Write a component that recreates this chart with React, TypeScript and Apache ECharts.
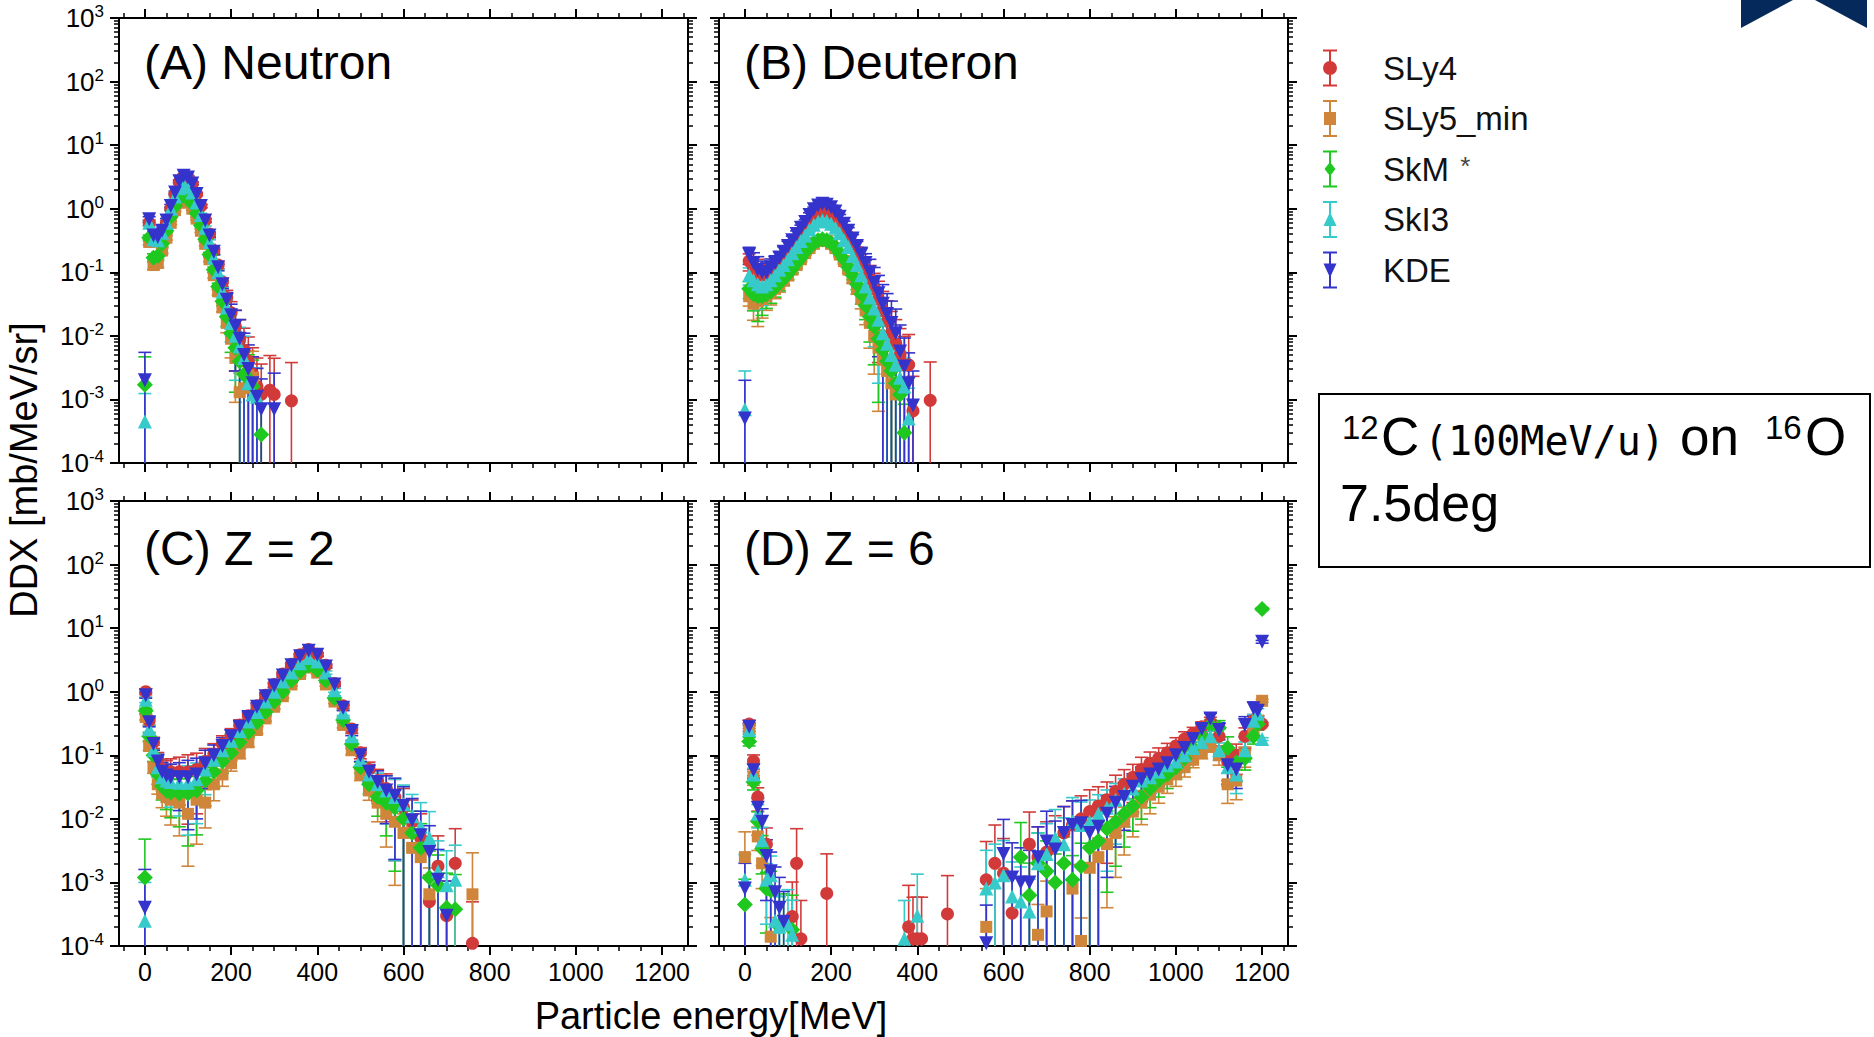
import React, { useEffect, useRef } from "react";
import * as echarts from "echarts";

const FONT = '"Liberation Sans", Arial, Helvetica, sans-serif';

const MODELS = ["SLy4", "SLy5_min", "SkM*", "SkI3", "KDE"];
const COLORS = ["#d23a3a", "#cf853a", "#1fc81f", "#37caca", "#3434cc"];
const SYMBOLS = ["circle", "rect", "diamond", "triangle", "triangle"];
const SYMBOL_SIZES = [13, 12, 16, 14, 14];
const SYMBOL_ROTATE = [0, 0, 0, 0, 180];
const BAR = "M0,0H14V2H0Z M6,2H8V35H6Z M0,35H14V37H0Z ";
const LEGEND_ICONS = [
  "path://" + BAR + "M0,18.5A7,7 0 1,1 14,18.5A7,7 0 1,1 0,18.5Z",
  "path://" + BAR + "M1,12H13V25H1Z",
  "path://" + BAR + "M7,11.5L12.5,18.5L7,25.5L1.5,18.5Z",
  "path://" + BAR + "M7,11L13.5,25H0.5Z",
  "path://" + BAR + "M0.5,12H13.5L7,26Z",
];

const PANEL_TITLES = ["(A) Neutron", "(B) Deuteron", "(C) Z = 2", "(D) Z = 6"];

const X_MAJOR = [0, 200, 400, 600, 800, 1000, 1200];
const X_MINOR = [-50, 50, 100, 150, 250, 300, 350, 450, 500, 550, 650, 700, 750, 850, 900, 950, 1050, 1100, 1150, 1250];
const Y_MAJOR = [1e-4, 1e-3, 1e-2, 1e-1, 1, 10, 100, 1000];
const Y_MINOR_STEPS = [2, 3, 4, 5, 6, 7, 8, 9];
const Y_MINOR = Y_MAJOR.slice(0, -1).flatMap((d) => Y_MINOR_STEPS.map((k) => k * d));
const Y_MIN = 1e-4;
const Y_MAX = 1000;
const X_MIN = -60;
const X_MAX = 1260;

// ---------- (A) Neutron ----------
const A_X = [0, 10, 20, 30, 40, 50, 60, 70, 80, 90, 100, 110, 120, 130, 140, 150, 160, 170, 180, 190, 200, 210, 220, 230, 240, 250, 260, 270, 280, 290, 300, 310, 320, 330, 340];
const A_SLY4 = [null, 0.6, 0.33, 0.32, 0.42, 0.6, 1.0, 1.7, 2.6, 3.2, 3.1, 2.5, 1.7, 1.1, 0.66, 0.4, 0.22, 0.13, 0.07, 0.04, 0.023, 0.014, 0.009, 0.006, 0.004, 0.0025, 0.0016, 0.0012, null, 0.0014, 0.0012, null, null, null, 0.00095];
const A_SLY5 = [null, 0.3, 0.13, 0.14, 0.22, 0.35, 0.6, 0.95, 1.25, 1.35, 1.25, 1.0, 0.7, 0.45, 0.28, 0.16, 0.09, 0.05, 0.028, 0.016, 0.009, 0.0045, 0.0013, 0.0015, 0.0024, 0.0022, null, null, null, null, null, null, null, null, null];
const A_SKM = [0.0017, 0.35, 0.17, 0.18, 0.28, 0.45, 0.75, 1.1, 1.45, 1.6, 1.5, 1.2, 0.85, 0.55, 0.33, 0.19, 0.11, 0.06, 0.035, 0.02, 0.011, 0.0065, 0.004, 0.0025, 0.0021, 0.0016, null, 0.00028, null, null, null, null, null, null, null];
const A_SKI3 = [0.00045, 0.6, 0.33, 0.32, 0.42, 0.6, 1.0, 1.55, 2.1, 2.4, 2.2, 1.8, 1.25, 0.8, 0.5, 0.3, 0.17, 0.1, 0.05, 0.028, 0.016, 0.01, 0.0068, 0.0045, 0.0018, 0.0012, 0.0011, null, null, null, null, null, null, null, null];
const A_KDE = [0.002, 0.68, 0.38, 0.36, 0.45, 0.65, 1.1, 1.8, 2.7, 3.3, 3.1, 2.5, 1.7, 1.1, 0.65, 0.38, 0.21, 0.12, 0.065, 0.037, 0.021, 0.014, 0.009, 0.005, 0.003, 0.0018, 0.0011, 0.0007, null, null, 0.0007, null, null, null, null];
const A_REL_ERR = [1.75, 0.1, 0.15, 0.15, 0.1, 0.08, 0.06, 0.05, 0.05, 0.05, 0.05, 0.05, 0.05, 0.06, 0.07, 0.08, 0.1, 0.12, 0.15, 0.3, 0.5, 0.8, 1.0, 1.2, 1.4, 1.6, 1.8, 2.0, 2.5, 2.5, 2.7, 3, 3, 3, 3];

// ---------- (B) Deuteron ----------
const B_X = [0, 10, 20, 30, 40, 50, 60, 70, 80, 90, 100, 110, 120, 130, 140, 150, 160, 170, 180, 190, 200, 210, 220, 230, 240, 250, 260, 270, 280, 290, 300, 310, 320, 330, 340, 350, 360, 370, 380, 390, 400, 410, 420, 430];
const B_SLY4 = [null, 0.15, 0.12, 0.1, 0.09, 0.09, 0.1, 0.12, 0.14, 0.17, 0.21, 0.26, 0.33, 0.41, 0.5, 0.64, 0.78, 0.88, 0.93, 0.9, 0.84, 0.72, 0.6, 0.47, 0.37, 0.28, 0.21, 0.15, 0.11, 0.08, 0.055, 0.038, 0.025, 0.017, 0.011, 0.0075, 0.005, 0.0035, 0.0035, 0.00066, null, null, null, 0.00097];
const B_SLY5 = [null, 0.042, 0.032, 0.035, 0.038, 0.042, 0.047, 0.055, 0.065, 0.076, 0.09, 0.11, 0.13, 0.16, 0.2, 0.24, 0.28, 0.31, 0.32, 0.31, 0.28, 0.24, 0.19, 0.15, 0.11, 0.08, 0.055, 0.038, 0.025, 0.016, 0.01, 0.0065, 0.0042, 0.0028, 0.0018, 0.0012, null, null, null, null, null, null, null, null];
const B_SKM = [null, 0.055, 0.045, 0.042, 0.042, 0.045, 0.05, 0.058, 0.068, 0.08, 0.095, 0.115, 0.14, 0.17, 0.21, 0.25, 0.29, 0.32, 0.33, 0.32, 0.29, 0.25, 0.2, 0.16, 0.12, 0.09, 0.065, 0.045, 0.03, 0.02, 0.014, 0.009, 0.006, 0.004, 0.0028, 0.0018, 0.0012, 0.0003, null, null, null, null, null, null];
const B_SKI3 = [0.0007, 0.09, 0.075, 0.065, 0.06, 0.065, 0.075, 0.09, 0.11, 0.13, 0.16, 0.2, 0.25, 0.31, 0.38, 0.47, 0.56, 0.63, 0.66, 0.64, 0.58, 0.5, 0.41, 0.32, 0.25, 0.18, 0.13, 0.09, 0.06, 0.04, 0.027, 0.018, 0.011, 0.0075, 0.005, 0.0035, 0.0022, 0.0016, 0.0005, null, null, null, null, null];
const B_KDE = [0.0005, 0.19, 0.14, 0.11, 0.1, 0.1, 0.12, 0.14, 0.17, 0.21, 0.26, 0.32, 0.4, 0.5, 0.62, 0.8, 0.98, 1.12, 1.2, 1.15, 1.05, 0.9, 0.75, 0.58, 0.45, 0.34, 0.26, 0.19, 0.14, 0.1, 0.068, 0.047, 0.032, 0.022, 0.016, 0.011, 0.0057, 0.0033, 0.0018, 0.0008, null, null, null, null];
const B_REL_ERR = [3, 0.3, 0.45, 0.6, 0.5, 0.4, 0.35, 0.3, 0.25, 0.2, 0.18, 0.15, 0.12, 0.1, 0.08, 0.08, 0.08, 0.08, 0.08, 0.08, 0.08, 0.08, 0.08, 0.1, 0.12, 0.15, 0.18, 0.3, 0.4, 0.6, 0.75, 0.9, 1.0, 1.1, 1.2, 1.4, 1.6, 1.8, 2.0, 2.5, 3, 3, 3, 3];

// ---------- (C) Z = 2 ----------
const C_X = [0, 2, 10, 20, 30, 40, 50, 60, 80, 100, 120, 140, 160, 180, 200, 220, 240, 260, 280, 300, 320, 340, 360, 380, 400, 420, 440, 460, 480, 500, 520, 540, 560, 580, 600, 620, 640, 660, 680, 700, 720, 740, 760];
const C_SLY4 = [null, 1.0, 0.35, 0.16, 0.085, 0.06, 0.055, 0.055, 0.055, 0.055, 0.06, 0.08, 0.105, 0.15, 0.21, 0.3, 0.42, 0.6, 0.88, 1.3, 1.9, 2.7, 3.8, 4.6, 3.9, 2.6, 1.35, 0.6, 0.26, 0.11, 0.06, 0.04, 0.03, 0.022, 0.015, 0.009, 0.005, 0.0005, 0.0018, 0.0003, 0.002, null, 0.00011];
const C_SLY5 = [null, 0.4, 0.14, 0.065, 0.035, 0.025, 0.022, 0.02, 0.018, 0.012, 0.02, 0.018, 0.035, 0.05, 0.075, 0.11, 0.16, 0.25, 0.38, 0.58, 0.85, 1.3, 1.9, 2.4, 2.0, 1.3, 0.7, 0.3, 0.12, 0.05, 0.028, 0.018, 0.012, 0.009, 0.006, 0.0035, 0.0025, 0.00065, null, null, null, null, 0.00065];
const C_SKM = [0.0012, 0.5, 0.2, 0.1, 0.05, 0.033, 0.028, 0.026, 0.025, 0.025, 0.028, 0.04, 0.055, 0.08, 0.11, 0.16, 0.23, 0.33, 0.48, 0.7, 1.0, 1.5, 2.1, 2.6, 2.2, 1.5, 0.8, 0.36, 0.15, 0.065, 0.035, 0.022, 0.018, 0.015, 0.01, 0.006, 0.0035, 0.0012, 0.0009, 0.0004, 0.00038, null, null];
const C_SKI3 = [0.00025, 0.75, 0.26, 0.12, 0.065, 0.045, 0.04, 0.038, 0.037, 0.037, 0.042, 0.06, 0.085, 0.12, 0.17, 0.24, 0.34, 0.48, 0.7, 1.0, 1.45, 2.0, 2.8, 3.4, 3.0, 2.0, 1.05, 0.47, 0.2, 0.085, 0.05, 0.035, 0.028, 0.022, 0.017, 0.011, 0.0075, 0.005, 0.0015, 0.0009, 0.0011, null, null];
const C_KDE = [0.0004, 0.88, 0.33, 0.15, 0.08, 0.055, 0.048, 0.045, 0.045, 0.045, 0.05, 0.075, 0.1, 0.14, 0.2, 0.28, 0.4, 0.58, 0.85, 1.25, 1.8, 2.6, 3.6, 4.4, 3.8, 2.5, 1.3, 0.56, 0.24, 0.1, 0.055, 0.038, 0.028, 0.023, 0.016, 0.0095, 0.0055, 0.003, 0.0011, 0.0003, null, null, null];
const C_REL_ERR = [3, 0.1, 0.15, 0.2, 0.3, 0.4, 0.5, 0.6, 0.7, 0.85, 0.8, 0.6, 0.45, 0.35, 0.25, 0.2, 0.15, 0.12, 0.1, 0.08, 0.07, 0.06, 0.06, 0.06, 0.06, 0.06, 0.07, 0.1, 0.15, 0.2, 0.3, 0.5, 0.7, 0.9, 1.0, 1.2, 1.4, 1.6, 2.0, 2.5, 2.5, 3, 3.5];

// ---------- (D) Z = 6 ----------
const D_X = [0, 10, 20, 30, 40, 50, 60, 70, 80, 90, 100, 110, 120, 130, 190, 370, 380, 390, 400, 410, 470,
  560, 580, 600, 620, 640, 660, 680, 700, 720, 740, 760, 780, 800, 820, 840, 860, 880, 900, 920, 940, 960, 980, 1000, 1020, 1040, 1060, 1080, 1100, 1120, 1140, 1160, 1180,
  1190, 1200];
const D_SLY4 = [null, 0.31, 0.081, 0.022, null, 0.004, null, null, null, null, null, 0.00029, 0.002, 0.00013, 0.00067, null, 0.0002, 0.00013, 0.00013, 0.00013, 0.00032,
  0.0011, 0.002, 0.0014, 0.00033, null, 0.004, 0.0025, 0.003, 0.004, 0.006, 0.008, 0.01, 0.013, 0.016, 0.02, 0.027, 0.035, 0.045, 0.06, 0.075, 0.09, 0.11, 0.14, 0.18, 0.22, 0.28, 0.33, 0.2, 0.08, 0.1, 0.2, 0.35,
  0.35, 0.31];
const D_SLY5 = [0.0025, 0.26, 0.045, 0.0053, 0.002, null, 0.00014, null, null, null, null, null, null, null, null, null, null, null, null, null, null,
  0.0002, null, null, null, null, null, 0.00015, 0.00035, null, null, 0.0008, 0.00012, 0.0017, 0.0025, 0.004, 0.006, 0.009, 0.013, 0.018, 0.024, 0.032, 0.042, 0.05, 0.065, 0.085, 0.11, 0.14, 0.1, 0.035, 0.04, 0.1, 0.25,
  0.35, 0.72];
const D_SKM = [0.00045, 0.165, 0.038, 0.0092, 0.0034, 0.0008, 0.00075, null, 0.0002, 0.00022, null, 0.00018, null, null, null, null, null, null, null, null, null,
  null, null, null, null, 0.0025, 0.00063, 0.002, 0.0015, 0.001, 0.002, 0.0011, 0.0018, 0.0035, 0.0045, 0.007, 0.009, 0.012, 0.016, 0.022, 0.03, 0.04, 0.05, 0.065, 0.09, 0.13, 0.2, 0.3, 0.27, 0.13, 0.077, 0.09, 0.2,
  0.31, 20];
const D_SKI3 = [0.0011, 0.25, 0.05, 0.012, 0.0046, 0.0011, 0.0013, 0.00025, 0.0002, null, 0.00022, 0.00015, null, null, null, 0.00013, null, null, 0.0003, null, null,
  0.0008, 0.001, 0.0013, 0.0006, 0.0005, 0.00035, 0.002, 0.0028, 0.005, 0.004, 0.009, 0.008, 0.009, 0.012, 0.015, 0.02, 0.025, 0.03, 0.04, 0.045, 0.055, 0.07, 0.08, 0.1, 0.13, 0.16, 0.2, 0.12, 0.065, 0.05, 0.12, 0.35,
  0.45, 0.18];
const D_KDE = [0.0008, 0.28, 0.058, 0.015, 0.009, 0.0026, 0.0015, 0.0007, 0.0004, 0.00024, null, null, null, null, null, null, null, null, null, null, null,
  0.00011, null, 0.0028, 0.0012, 0.001, 0.001, 0.0025, 0.0044, 0.0033, 0.006, 0.008, 0.0085, 0.006, 0.0075, 0.012, 0.018, 0.022, 0.032, 0.042, 0.05, 0.06, 0.075, 0.1, 0.13, 0.18, 0.26, 0.38, 0.25, 0.07, 0.06, 0.3, 0.55,
  0.5, 6.1];
const D_REL_ERR = [1.5, 0.15, 0.25, 0.4, 0.6, 0.8, 1.0, 1.5, 2, 2, 2.5, 2.5, 2.5, 3, 3.2, 3, 3.5, 3.5, 3.5, 3.5, 3,
  3, 3, 2.5, 2.5, 2.5, 2.2, 2, 2, 1.8, 1.6, 1.4, 1.3, 1.2, 1.0, 0.9, 0.8, 0.7, 0.6, 0.55, 0.5, 0.45, 0.4, 0.35, 0.3, 0.25, 0.2, 0.2, 0.3, 0.5, 0.5, 0.35, 0.25,
  0.2, 0.05];

const PANELS = [
  { x: A_X, values: [A_SLY4, A_SLY5, A_SKM, A_SKI3, A_KDE], rel: A_REL_ERR },
  { x: B_X, values: [B_SLY4, B_SLY5, B_SKM, B_SKI3, B_KDE], rel: B_REL_ERR },
  { x: C_X, values: [C_SLY4, C_SLY5, C_SKM, C_SKI3, C_KDE], rel: C_REL_ERR },
  { x: D_X, values: [D_SLY4, D_SLY5, D_SKM, D_SKI3, D_KDE], rel: D_REL_ERR },
];

const GRID_POS = [
  { left: 119, top: 18 },
  { left: 719, top: 18 },
  { left: 119, top: 501 },
  { left: 719, top: 501 },
];
const GRID_W = 569;
const GRID_H = 445;

function buildOption() {
  const grid: any[] = [];
  const xAxis: any[] = [];
  const yAxis: any[] = [];
  const series: any[] = [];
  const axisLineStyle = { color: "#000", width: 2 };

  GRID_POS.forEach((g, p) => {
    grid.push({ left: g.left, top: g.top, width: GRID_W, height: GRID_H, containLabel: false, outerBoundsMode: "none" });
    const showX = p >= 2;
    const showY = p % 2 === 0;
    (["bottom", "top"] as const).forEach((pos) => {
      xAxis.push({
        gridIndex: p, type: "value", position: pos, min: X_MIN, max: X_MAX,
        axisLine: { show: true, onZero: false, lineStyle: axisLineStyle },
        axisTick: { show: true, customValues: X_MAJOR, length: 9, lineStyle: { color: "#000", width: 2 } },
        axisLabel: {
          show: pos === "bottom" && showX, customValues: X_MAJOR, margin: 13, color: "#000", fontSize: 25, fontFamily: FONT,
          formatter: (v: number) => String(v),
        },
        splitLine: { show: false },
      });
      xAxis.push({
        gridIndex: p, type: "value", position: pos, min: X_MIN, max: X_MAX,
        axisLine: { show: false, onZero: false },
        axisTick: { show: true, customValues: X_MINOR, length: 5, lineStyle: { color: "#000", width: 1.5 } },
        axisLabel: { show: false },
        splitLine: { show: false },
      });
    });
    (["left", "right"] as const).forEach((pos) => {
      yAxis.push({
        gridIndex: p, type: "log", logBase: 10, position: pos, min: Y_MIN, max: Y_MAX, interval: 1,
        axisLine: { show: true, onZero: false, lineStyle: axisLineStyle },
        axisTick: { show: true, customValues: Y_MAJOR, length: 9, lineStyle: { color: "#000", width: 2 } },
        axisLabel: {
          show: pos === "left" && showY, customValues: Y_MAJOR, margin: 15,
          formatter: (v: number) => `{b|10}{s|${Math.round(Math.log10(v))}}`,
          rich: {
            b: { fontSize: 26, fontFamily: FONT, color: "#000", lineHeight: 30 },
            s: { fontSize: 17, fontFamily: FONT, color: "#000", lineHeight: 18, verticalAlign: "top" },
          },
        },
        splitLine: { show: false },
      });
      yAxis.push({
        gridIndex: p, type: "log", logBase: 10, position: pos, min: Y_MIN, max: Y_MAX, interval: 1,
        axisLine: { show: false, onZero: false },
        axisTick: { show: true, customValues: Y_MINOR, length: 5, lineStyle: { color: "#000", width: 1.5 } },
        axisLabel: { show: false },
        splitLine: { show: false },
      });
    });

    const panel = PANELS[p];
    MODELS.forEach((name, m) => {
      const vals = panel.values[m];
      const color = COLORS[m];
      const pts: any[] = [];
      const errs: any[] = [];
      panel.x.forEach((x, i) => {
        const v = vals[i];
        if (v == null) return;
        pts.push([x, v]);
        const rel = panel.rel[i] ?? 0.1;
        const loRaw = v * (1 - rel);
        const lo = loRaw > Y_MIN ? loRaw : Y_MIN;
        const hi = Math.min(v * (1 + rel), Y_MAX);
        errs.push([x, v, lo, hi, loRaw > Y_MIN ? 1 : 0]);
      });
      series.push({
        type: "custom", name, xAxisIndex: p * 4, yAxisIndex: p * 4, data: errs, z: 2, silent: true, clip: true,
        itemStyle: { color },
        encode: { x: 0, y: 1 },
        renderItem: (params: any, api: any) => {
          const x = api.value(0);
          const pHi = api.coord([x, api.value(3)]);
          const pLo = api.coord([x, api.value(2)]);
          const st = { stroke: color, lineWidth: 1.6 };
          const cw = 6.5;
          const children: any[] = [
            { type: "line", shape: { x1: pLo[0], y1: pLo[1], x2: pHi[0], y2: pHi[1] }, style: st },
            { type: "line", shape: { x1: pHi[0] - cw, y1: pHi[1], x2: pHi[0] + cw, y2: pHi[1] }, style: st },
          ];
          if (api.value(4) === 1) {
            children.push({ type: "line", shape: { x1: pLo[0] - cw, y1: pLo[1], x2: pLo[0] + cw, y2: pLo[1] }, style: st });
          }
          return { type: "group", children };
        },
      });
      series.push({
        type: "scatter", name, xAxisIndex: p * 4, yAxisIndex: p * 4, data: pts, z: 3, silent: true,
        symbol: SYMBOLS[m], symbolSize: SYMBOL_SIZES[m], symbolRotate: SYMBOL_ROTATE[m],
        itemStyle: { color, opacity: 1 },
      });
    });
  });

  const graphic: any[] = [];
  PANEL_TITLES.forEach((t, p) => {
    graphic.push({
      type: "text", x: GRID_POS[p].left + 25, y: GRID_POS[p].top + (p < 2 ? 44 : 47), silent: true,
      style: { text: t, fontSize: 48, fontFamily: FONT, fill: "#000", align: "left", verticalAlign: "middle", textAlign: "left", textVerticalAlign: "middle" },
    });
  });
  graphic.push({
    type: "text", x: 711, y: 1016, silent: true,
    style: { text: "Particle energy[MeV]", fontSize: 38, fontFamily: FONT, fill: "#000", align: "center", verticalAlign: "middle", textAlign: "center", textVerticalAlign: "middle" },
  });
  graphic.push({
    type: "text", x: 24, y: 470, rotation: Math.PI / 2, silent: true,
    style: { text: "DDX [mb/MeV/sr]", fontSize: 38, fontFamily: FONT, fill: "#000", align: "center", verticalAlign: "middle", textAlign: "center", textVerticalAlign: "middle" },
  });
  // reaction box
  graphic.push({
    type: "rect", shape: { x: 1319, y: 394, width: 551, height: 173 }, silent: true,
    style: { fill: "#fff", stroke: "#000", lineWidth: 2 },
  });
  const boxText = (text: string, x: number, y: number, size: number, family = FONT) => ({
    type: "text", x, y, silent: true, z: 10,
    style: { text, fontSize: size, fontFamily: family, fill: "#000", align: "left", verticalAlign: "middle", textAlign: "left", textVerticalAlign: "middle" },
  });
  graphic.push(boxText("12", 1342, 427, 33));
  graphic.push(boxText("C", 1381, 436, 53));
  graphic.push(boxText("(100MeV/u)", 1424, 441, 40, '"DejaVu Sans Mono", monospace'));
  graphic.push(boxText("on", 1680, 436, 53));
  graphic.push(boxText("16", 1765, 427, 33));
  graphic.push(boxText("O", 1805, 436, 53));
  graphic.push(boxText("7.5deg", 1340, 503, 52));
  // corner logo
  graphic.push({ type: "polygon", silent: true, shape: { points: [[1741, 0], [1793, 0], [1741, 28]] }, style: { fill: "#06295b" } });
  graphic.push({ type: "polygon", silent: true, shape: { points: [[1815, 0], [1867, 0], [1867, 28]] }, style: { fill: "#06295b" } });

  return {
    animation: false,
    backgroundColor: "#fff",
    textStyle: { fontFamily: FONT },
    grid, xAxis, yAxis, series, graphic,
    legend: {
      orient: "vertical", left: 1318, top: 44.5, itemWidth: 14, itemHeight: 37, itemGap: 13.5,
      selectedMode: false,
      data: MODELS.map((name, m) => ({ name, icon: LEGEND_ICONS[m], itemStyle: { color: COLORS[m] } })),
      formatter: (name: string) => (name === "SkM*" ? "{n|SkM}{s| *}" : `{n|${name}}`),
      textStyle: {
        fontSize: 33, fontFamily: FONT, color: "#111",
        rich: {
          n: { fontSize: 33, fontFamily: FONT, color: "#111", padding: [0, 0, 0, 41] },
          s: { fontSize: 26, fontFamily: FONT, color: "#444", verticalAlign: "top", padding: [0, 0, 0, 4] },
        },
      },
    },
  };
}

export default function App() {
  const ref = useRef<HTMLDivElement>(null);
  useEffect(() => {
    document.body.style.margin = "0";
    const chart = echarts.init(ref.current as HTMLDivElement, null, { renderer: "svg" });
    chart.setOption(buildOption() as any);
    return () => chart.dispose();
  }, []);
  return <div ref={ref} style={{ width: 1874, height: 1037 }} />;
}
